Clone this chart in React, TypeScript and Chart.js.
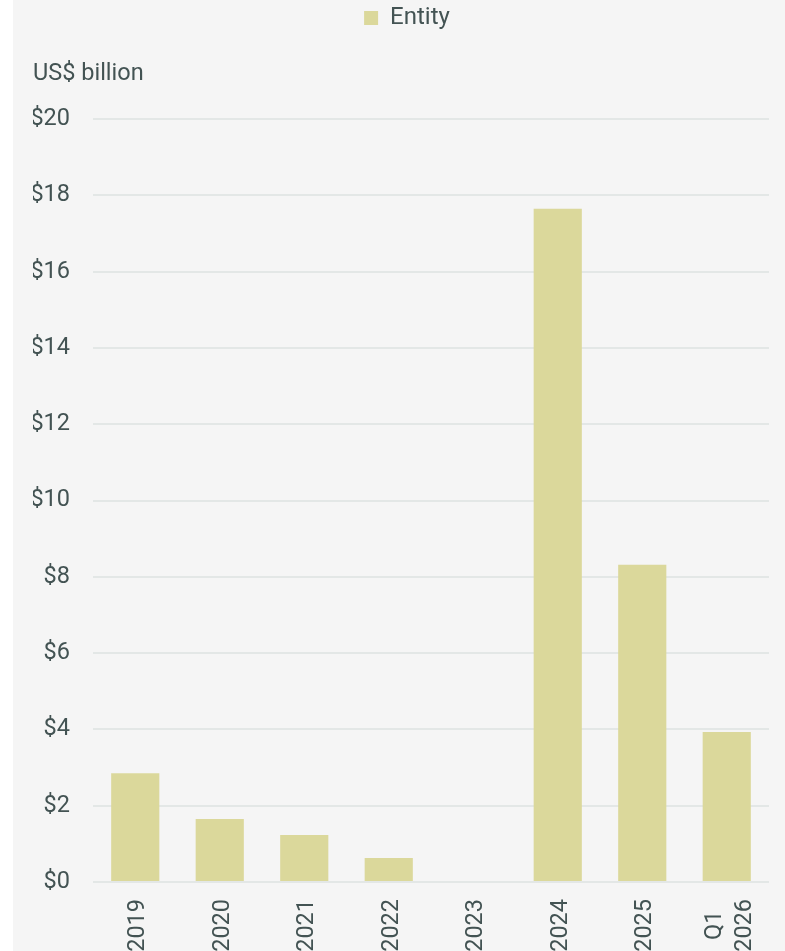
import React, { useEffect, useRef } from "react";
import { Chart, registerables } from "chart.js";

Chart.register(...registerables);

const categories: (string | string[])[] = ["2019", "2020", "2021", "2022", "2023", "2024", "2025", ["Q1  ", "2026"]];
const seriesName = "Entity";
const values = [2.85, 1.65, 1.23, 0.63, 0, 17.65, 8.32, 3.93];
const unitLabel = "US$ billion";
const yMin = 0;
const yMax = 20;
const yStep = 2;

const TEXT = "#435353";
const BAR = "#dbd89b";
const GRID = "#e3e7e6";
const FONT = "Roboto, 'Noto Sans', sans-serif";

// Centre multi-line rotated tick labels around their tick (Chart.js starts them at the tick).
const centerMultilineLabels = {
  id: "centerMultilineLabels",
  beforeDraw(chart: any) {
    const s: any = chart.scales.x;
    if (!s || !s.getLabelItems) return;
    const items = s.getLabelItems(chart.chartArea);
    let lh = 30;
    try {
      lh = s._resolveTickFontOptions(0).lineHeight || lh;
    } catch (e) {}
    items.forEach((it: any) => {
      if (Array.isArray(it.label) && it.label.length > 1 && it.options && it.options.translation) {
        it.options.translation[0] -= ((it.label.length - 1) * lh) / 2;
      }
    });
  },
};

export default function App() {
  const ref = useRef<HTMLCanvasElement | null>(null);

  useEffect(() => {
    if (!ref.current) return;
    const chart = new Chart(ref.current, {
      type: "bar",
      data: {
        labels: categories,
        datasets: [
          {
            label: seriesName,
            data: values,
            backgroundColor: BAR,
            borderWidth: 0,
            barPercentage: 0.57,
            categoryPercentage: 1,
            yAxisID: "y",
          },
        ],
      },
      plugins: [centerMultilineLabels],
      options: {
        animation: false,
        responsive: true,
        maintainAspectRatio: false,
        layout: { padding: { left: 20, right: 20, top: 0, bottom: 0 } },
        plugins: {
          tooltip: { enabled: false },
          legend: {
            position: "top",
            align: "center",
            labels: {
              boxWidth: 14,
              boxHeight: 14,
              padding: 6,
              color: TEXT,
              font: { family: FONT, size: 24 },
            },
          },
          title: {
            display: true,
            text: unitLabel,
            align: "start",
            weight: 500,
            color: TEXT,
            font: { family: FONT, size: 23.5, weight: "normal" },
            padding: { top: 20, bottom: 31 },
          } as any,
        },
        scales: {
          x: {
            grid: { display: false, drawTicks: false },
            border: { display: false },
            ticks: {
              color: TEXT,
              font: { family: FONT, size: 23.5, lineHeight: 1.28 },
              minRotation: 90,
              maxRotation: 90,
              autoSkip: false,
              padding: 17,
              labelOffset: 3,
            },
            afterFit: (s: any) => {
              s.height = 98;
              s.paddingLeft = 0;
              s.paddingRight = 0;
            },
          },
          y: {
            position: "left",
            min: yMin,
            max: yMax,
            grid: { color: GRID, lineWidth: 2, drawTicks: false },
            border: { display: false },
            ticks: {
              stepSize: yStep,
              color: TEXT,
              font: { family: FONT, size: 23.5 },
              padding: 23,
              callback: (v: any) => "$" + v,
            },
            afterFit: (s: any) => {
              s.width = 60;
            },
          },
          yRight: {
            position: "right",
            display: true,
            grid: { display: false, drawTicks: false },
            border: { display: false },
            ticks: { display: false },
            afterFit: (s: any) => {
              s.width = 12;
            },
          },
        },
      },
    });
    return () => chart.destroy();
  }, []);

  return (
    <div
      style={{
        position: "absolute",
        left: 13,
        top: 0,
        width: 772,
        height: 951,
        overflow: "hidden",
        background: "#f5f5f5",
      }}
    >
      <div style={{ position: "relative", width: 788, height: 980 }}>
        <canvas ref={ref} />
      </div>
    </div>
  );
}
